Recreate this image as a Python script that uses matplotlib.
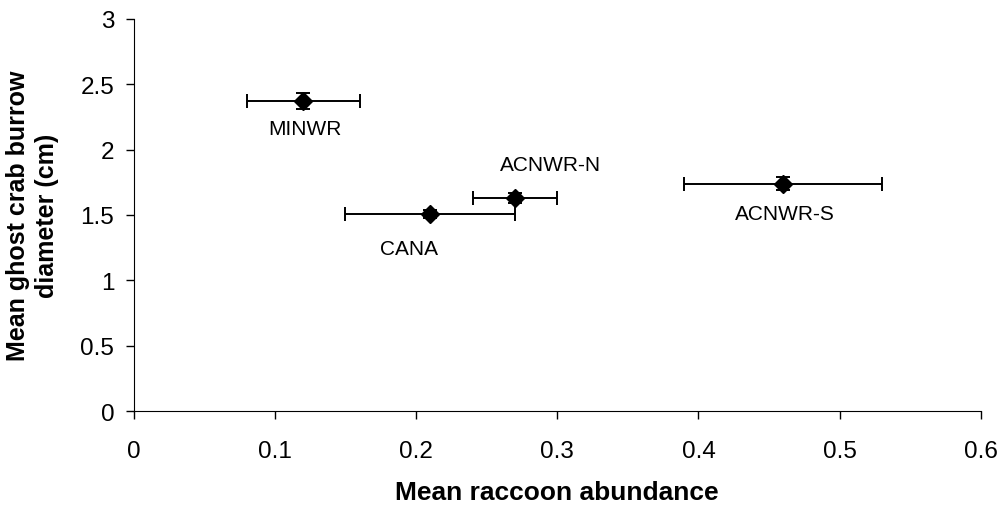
import matplotlib
matplotlib.use("Agg")
import matplotlib.pyplot as plt

plt.rcParams['font.family'] = ['Liberation Sans', 'DejaVu Sans']

sites = ["MINWR", "CANA", "ACNWR-N", "ACNWR-S"]
raccoon = [0.12, 0.21, 0.27, 0.46]
raccoon_err = [0.04, 0.06, 0.03, 0.07]
burrow = [2.37, 1.51, 1.63, 1.74]
burrow_err = [0.06, 0.03, 0.04, 0.05]
label_pos = [(0.121, 2.16), (0.195, 1.24), (0.295, 1.89), (0.461, 1.51)]

fig = plt.figure(figsize=(10.05, 5.1), dpi=100)
ax = fig.add_axes([0.133, 0.192, 0.843, 0.769])

ax.errorbar(raccoon, burrow, xerr=raccoon_err, yerr=burrow_err, fmt="D",
            color="black", markersize=9, elinewidth=1.4, capsize=5, capthick=1.4)

for name, (lx, ly) in zip(sites, label_pos):
    ax.text(lx, ly, name, ha="center", va="center", fontsize=15)

ax.set_xlim(0, 0.6)
ax.set_ylim(0, 3)
ax.set_xticks([0, 0.1, 0.2, 0.3, 0.4, 0.5, 0.6])
ax.set_xticklabels(["0", "0.1", "0.2", "0.3", "0.4", "0.5", "0.6"])
ax.set_yticks([0, 0.5, 1, 1.5, 2, 2.5, 3])
ax.set_yticklabels(["0", "0.5", "1", "1.5", "2", "2.5", "3"])
ax.spines["top"].set_visible(False)
ax.spines["right"].set_visible(False)
ax.tick_params(labelsize=17.5, length=6, width=1, pad=8)
ax.tick_params(axis="x", pad=15)

ax.set_xlabel("Mean raccoon abundance", fontsize=19, fontweight="bold")
ax.xaxis.set_label_coords(0.5, -0.175)
ax.set_ylabel("Mean ghost crab burrow\ndiameter (cm)", fontsize=18, fontweight="bold",
              linespacing=1.25)
ax.yaxis.set_label_coords(-0.088, 0.5)

fig.savefig("out.png", dpi=100)
